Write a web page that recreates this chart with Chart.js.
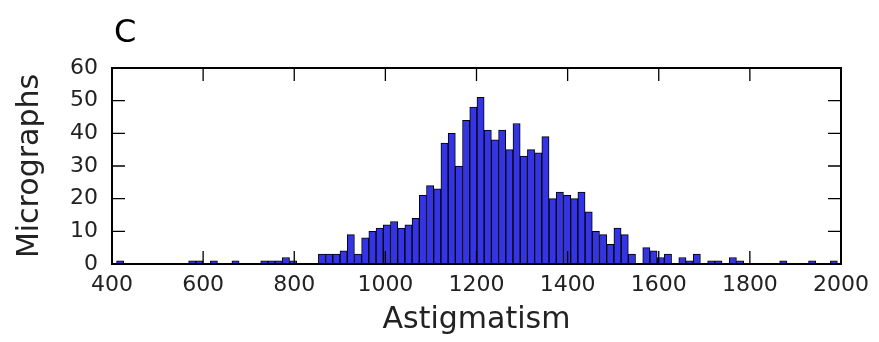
<!DOCTYPE html>
<html>
<head>
<meta charset="utf-8">
<script src="https://cdn.jsdelivr.net/npm/chart.js@4"></script>
<style>
  html, body { margin: 0; padding: 0; background: #fff; }
  #wrap { width: 879px; height: 342px; }
</style>
</head>
<body>
<div id="wrap"><canvas id="histC" width="879" height="342"></canvas></div>
<script>
    // histogram: 100 bins, start + width in astigmatism units
    const binStart = 410;
    const binWidth = 15.82;
    const counts = [
      1,0,0,0,0,0,0,0,0,0,
      1,1,0,1,0,0,1,0,0,0,
      1,1,1,2,1,0,0,0,3,3,
      3,4,9,3,8,10,11,12,13,11,
      12,14,21,24,23,37,40,30,44,48,
      51,41,38,41,35,43,33,35,34,39,
      20,22,21,20,22,16,10,9,6,11,
      9,3,0,5,4,2,3,0,2,1,
      3,0,1,1,0,2,1,0,0,0,
      0,0,1,0,0,0,1,0,0,1
    ];
    const xTicks = [400, 600, 800, 1000, 1200, 1400, 1600, 1800, 2000];
    const yTicks = [0, 10, 20, 30, 40, 50, 60];
    const panelLabel = 'C';

    const points = counts.map((c, i) => ({ x: binStart + binWidth * (i + 0.5), y: c }));

    const fontFam = "'DejaVu Sans', sans-serif";

    // frame + inward ticks on all four sides, matplotlib classic look
    const framePlugin = {
      id: 'frame',
      afterDraw(chart) {
        const { ctx, chartArea: a, scales } = chart;
        ctx.save();
        ctx.strokeStyle = '#000';
        ctx.lineWidth = 1.3;
        const len = 13;
        xTicks.forEach(v => {
          const px = scales.x.getPixelForValue(v);
          ctx.beginPath();
          ctx.moveTo(px, a.bottom); ctx.lineTo(px, a.bottom - len);
          ctx.moveTo(px, a.top); ctx.lineTo(px, a.top + len);
          ctx.stroke();
        });
        yTicks.forEach(v => {
          const py = scales.y.getPixelForValue(v);
          ctx.beginPath();
          ctx.moveTo(a.left, py); ctx.lineTo(a.left + len, py);
          ctx.moveTo(a.right, py); ctx.lineTo(a.right - len, py);
          ctx.stroke();
        });
        ctx.lineWidth = 2;
        ctx.strokeRect(a.left, a.top, a.right - a.left, a.bottom - a.top);
        // panel letter
        ctx.fillStyle = '#000';
        ctx.font = '32px ' + fontFam;
        ctx.textBaseline = 'alphabetic';
        ctx.fillText(panelLabel, a.left + 2, 42);
        ctx.restore();
      }
    };

    const config = {
      type: 'bar',
      data: {
        datasets: [{
          data: points,
          backgroundColor: 'rgb(52,52,228)',
          borderColor: '#000',
          borderWidth: 1,
          borderSkipped: false,
          barPercentage: 1,
          categoryPercentage: 1
        }]
      },
      options: {
        responsive: false,
        animation: false,
        layout: { padding: { left: 0, top: 68, right: 38, bottom: 0 } },
        plugins: { legend: { display: false }, tooltip: { enabled: false } },
        scales: {
          x: {
            type: 'linear',
            min: 400, max: 2000,
            offset: false,
            afterBuildTicks: s => { s.ticks = xTicks.map(v => ({ value: v })); },
            afterFit: s => { s.height = 78; },
            grid: { display: false, drawTicks: false, offset: false },
            border: { display: false },
            ticks: { color: '#222', padding: 8, font: { family: fontFam, size: 22 },
                     callback: v => String(v) },
            title: { display: true, text: 'Astigmatism', color: '#222',
                     font: { family: fontFam, size: 30 }, padding: { top: 2, bottom: 4 } }
          },
          y: {
            min: 0, max: 60,
            afterBuildTicks: s => { s.ticks = yTicks.map(v => ({ value: v })); },
            afterFit: s => { s.width = 112; },
            grid: { display: false, drawTicks: false },
            border: { display: false },
            ticks: { color: '#222', padding: 14, font: { family: fontFam, size: 22 } },
            title: { display: true, text: 'Micrographs', color: '#222',
                     font: { family: fontFam, size: 30 }, padding: { top: 12, bottom: 0 } }
          }
        }
      },
      plugins: [framePlugin]
    };

    const chartC = new Chart(document.getElementById('histC'), config);
</script>
</body>
</html>
